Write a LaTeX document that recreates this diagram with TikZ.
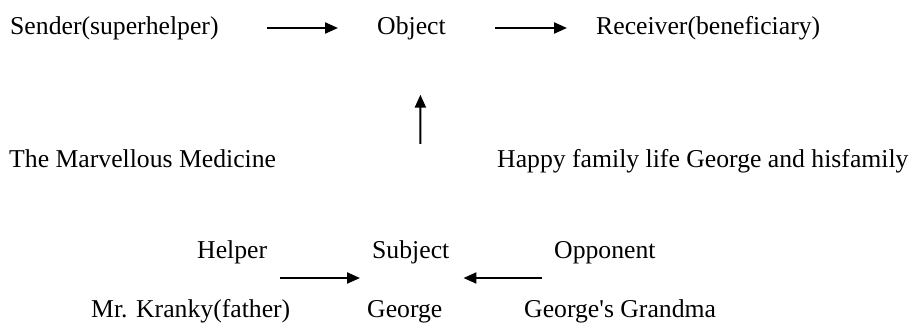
\documentclass[tikz,border=0pt]{standalone}
\usepackage{fontspec}
\setmainfont{Liberation Serif}[Ligatures=TeXOff]
\usetikzlibrary{arrows.meta}

\begin{document}
\begin{tikzpicture}[
  x=1pt, y=-1pt, >={Triangle[length=13pt,width=11pt]},
  lbl/.style={inner sep=0pt, anchor=base west, font=\fontsize{25.7pt}{30pt}\selectfont},
  arr/.style={->, line width=2.2pt}]
  \useasboundingbox (0,0) rectangle (917,322);
  % top row
  \node[lbl] (sender) at (10,34) {Sender(superhelper)};
  \node[lbl] (object) at (377,34) {Object};
  \node[lbl] (receiver) at (596,34) {Receiver(beneficiary)};
  % middle row
  \node[lbl] (medicine) at (9,167) {The Marvellous Medicine};
  \node[lbl] (happy) at (497,167) {Happy family life George and hisfamily};
  % bottom rows
  \node[lbl] (helper) at (197,258) {Helper};
  \node[lbl] (subject) at (372,258) {Subject};
  \node[lbl] (opponent) at (554,258) {Opponent};
  \node[lbl] (kranky) at (91,317) {Mr. Kranky(father)};
  \node[lbl] (george) at (367,317) {George};
  \node[lbl] (grandma) at (524,317) {George's Grandma};
  \draw[arr, shorten <=48pt, shorten >=39pt] ([yshift=6pt]sender.base east) -- ([yshift=6pt]object.base west);
  \draw[arr, shorten <=49pt, shorten >=29pt] ([yshift=6pt]object.base east) -- ([yshift=6pt]receiver.base west);
  \draw[arr, shorten <=96pt, shorten >=55pt] ([xshift=9.5pt]subject.north) -- ([xshift=9pt]object.south);
  \draw[arr, shorten <=13pt, shorten >=12pt] ([yshift=-20pt]helper.base east) -- ([yshift=-20pt]subject.base west);
  \draw[arr, shorten <=12pt, shorten >=14pt] ([yshift=-20pt]opponent.base west) -- ([yshift=-20pt]subject.base east);
\end{tikzpicture}
\end{document}
